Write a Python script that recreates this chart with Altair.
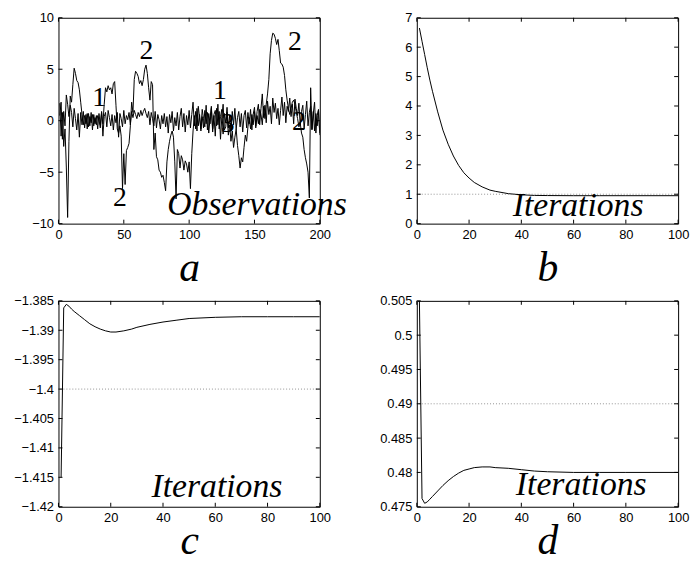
import altair as alt
import pandas as pd

# ---------------- data ----------------
obs_x = list(range(1, 201))

series_small = [
    0.5, 1.8, -1.8, 0.9, -0.5, 2.5, 1.6, 0.4, 1.5, 0.8,
    -0.6, 1.2, 0.2, -0.9, 0.7, -1.6, 0.8, -0.4, 0.9, -0.7,
    0.6, -0.8, 0.7, -0.5, 0.8, -0.9, 0.6, -0.3, 0.5, -0.8,
    0.7, -0.4, 0.9, -1.5, 0.4, 0.8, -0.6, 1.0, 0.3, -0.5,
    0.6, -0.9, 0.5, -0.2, 0.8, -1.6, 0.7, 0.2, -0.6, 1.0,
    -0.3, 0.5, 0.1, 0.8, -0.4, 0.9, 0.3, 1.0, 0.6, 0.2,
    0.8, 0.4, 1.0, 0.5, 0.9, 1.2, 0.7, 0.3, 0.9, -0.4,
    0.8, 0.2, -0.5, 0.9, -0.7, 0.6, 0.1, -0.8, 0.5, -0.3,
    0.7, -0.6, 0.4, -1.2, 0.6, -0.2, 0.9, -1.0, 0.3, -0.5,
    0.8, -0.9, 0.4, 1.2, -0.6, 0.7, -1.1, 0.5, -0.4, 1.0,
    -0.7, 0.6, 1.8, -0.5, 0.9, -1.0, 1.4, 0.3, -0.8, 1.1,
    0.2, -0.6, 1.5, -0.9, 0.7, -0.3, 1.2, -1.1, 0.6, 1.0,
    -0.5, 1.6, -0.8, 0.4, 1.1, -1.3, 0.7, -0.2, 1.3, -0.7,
    0.5, -1.0, 0.9, -0.4, 1.2, -0.8, 0.3, 0.9, -0.6, 0.7,
    -1.1, 0.5, 1.0, -0.7, 0.8, -0.3, 1.1, -0.9, 0.6, 1.3,
    -0.5, 0.9, 1.6, -0.4, 1.2, 2.6, 0.3, 1.5, -0.2, 1.9,
    0.6, 1.4, -0.3, 2.2, 0.8, 1.7, 0.2, 1.2, -0.4, 1.0,
    2.3, 0.5, 1.8, -0.2, 1.4, 0.9, 2.2, 0.4, 1.6, -0.3,
    2.1, 1.2, 0.5, 1.7, -0.4, 0.9, 1.5, -0.8, 0.6, 1.9,
    -0.5, 0.8, 1.4, -0.9, 0.7, 1.8, -1.2, 0.5, 1.1, -1.4,
]

series_big = [
    1.7, -1.5, 0.8, -2.5, -0.8, -4.5, -9.4, -2.0, 2.4, 1.8,
    3.5, 5.1, 4.6, 3.9, 3.7, 3.0, 1.8, 0.6, -0.4, 0.5,
    -0.3, 0.7, -0.6, 0.4, -0.2, 0.6, -0.5, 0.3, -0.4, 0.5,
    0.1, -0.7, 0.8, -0.3, 1.6, 3.2, 2.8, 3.4, 3.0, 3.2,
    2.6, 3.6, 3.8, 1.5, -0.8, -1.2, -0.5, -1.5, -6.6, -3.2,
    -6.2, -2.9, -2.6, -2.2, -0.5, 1.8, 0.8, 4.0, 4.8, 4.6,
    4.3, 3.6, 3.9, 3.4, 4.0, 5.0, 5.4, 4.6, 3.2, 2.0,
    3.8, 3.5, -2.8, -1.2, -3.5, -3.8, -4.8, -5.0, -5.5, -5.3,
    -6.0, -6.8, -4.0, -2.8, -2.0, -1.4, -1.0, -1.6, -4.0, -7.6,
    -2.8, -3.2, -4.6, -3.4, -3.8, -4.8, -3.9, -4.2, -5.0, -4.0,
    -6.6, -3.2, -1.0, 0.5, -0.8, 1.2, -0.5, 0.6, -1.0, 0.4,
    -0.7, 1.0, -0.3, 0.8, -1.2, 0.2, 1.4, -0.8, 0.5, -1.5,
    1.2, -0.4, 0.9, -1.8, 0.3, 1.6, -0.9, -0.6, 0.8, -1.4,
    -0.4, -2.0, -1.0, -2.6, -1.6, -0.8, -2.4, -3.4, -4.6, -3.6,
    -4.0, -2.6, -1.4, -2.0, -0.6, 0.3, -0.8, 0.6, -0.4, 0.9,
    -0.7, 0.5, -0.3, 1.1, 0.6, -0.4, 1.4, 0.2, 1.6, 2.6,
    4.0, 6.5, 7.8, 8.5, 8.4, 8.0, 7.4, 7.9, 6.8, 5.6,
    5.5, 5.2, 4.4, 3.0, 2.0, 1.2, 0.6, 1.2, 1.8, 2.0,
    1.6, 0.8, 0.2, -0.6, -0.2, -1.2, -1.6, -2.8, -3.6, -4.2,
    -5.0, -7.5, 3.2, -0.8, 0.9, -1.0, 0.7, -0.5, 1.0, -1.2,
]

# regime labels in panel a
regime_text = ["2", "1", "2", "1", "3", "2", "2"]
regime_x = [67.4, 31.1, 47.0, 123.5, 129.5, 181.0, 184.0]
regime_y = [6.8, 2.2, -7.5, 2.9, -0.3, 7.6, -0.1]

iters = [1, 2, 3, 4, 5, 6, 8, 10, 12, 14, 16, 18, 20, 22, 25, 28, 30,
         35, 40, 45, 50, 60, 70, 80, 90, 100]
b_vals = [6.65, 6.2, 5.75, 5.3, 4.88, 4.5, 3.8, 3.18, 2.7, 2.3, 1.98, 1.73,
          1.55, 1.4, 1.25, 1.14, 1.1, 1.02, 0.98, 0.96, 0.955, 0.95, 0.95,
          0.95, 0.95, 0.95]
c_vals = [-1.415, -1.3862, -1.3856, -1.3859, -1.3864, -1.3868, -1.3875,
          -1.3882, -1.3889, -1.3894, -1.3898, -1.3901, -1.3903, -1.3903,
          -1.3901, -1.3898, -1.3895, -1.3890, -1.3886, -1.3883, -1.3880,
          -1.3878, -1.3877, -1.3877, -1.3877, -1.3877]
d_vals = [0.505, 0.4762, 0.4755, 0.4757, 0.4761, 0.4765, 0.4773, 0.4781,
          0.4788, 0.4794, 0.4799, 0.4803, 0.4805, 0.4807, 0.4808, 0.4808,
          0.4807, 0.4806, 0.4804, 0.4802, 0.4801, 0.4800, 0.4800, 0.4800,
          0.4800, 0.4800]

ref_b, ref_c, ref_d = 1.0, -1.4, 0.49

# ---------------- styling ----------------
W, H = 264, 208
TICK = 4
LABEL_FONT = "Liberation Sans"
SERIF = "Liberation Serif"


def panel(lines_df, xdom, ydom, xticks, yticks, title, title_y,
          ref=None, word=None, word_xy=None, labels_df=None):
    xscale = alt.Scale(domain=xdom, nice=False, zero=False)
    yscale = alt.Scale(domain=ydom, nice=False, zero=False)
    xaxis = alt.Axis(values=xticks, format="~f", ticks=False, tickSize=0,
                     domain=False, grid=False, labelPadding=5,
                     labelFlush=False, labelOverlap=False,
                     labelFont=LABEL_FONT, labelFontSize=13, labelColor="black",
                     title=title, titleFont=SERIF, titleFontSize=42,
                     titleFontStyle="italic", titleFontWeight="normal",
                     titleColor="black", titleBaseline="alphabetic",
                     titleY=title_y, titleX=W / 2, titleAlign="center")
    yaxis = alt.Axis(values=yticks, format="~f", ticks=False, tickSize=0,
                     domain=False, grid=False, labelPadding=5,
                     labelOverlap=False, labelFont=LABEL_FONT,
                     labelFontSize=13, labelColor="black", title=None)

    def xe():
        return alt.X("x:Q", scale=xscale, axis=xaxis)

    def ye():
        return alt.Y("y:Q", scale=yscale, axis=yaxis)

    layers = []
    layers.append(
        alt.Chart(lines_df).mark_line(color="black", strokeWidth=1, clip=True)
        .encode(x=xe(), y=ye(), detail="s:N")
    )
    if ref is not None:
        layers.append(
            alt.Chart(pd.DataFrame({"y": [ref]}))
            .mark_rule(color="#777777", strokeWidth=0.8, strokeDash=[1, 2])
            .encode(y=ye())
        )
    xt = pd.DataFrame({"x": xticks})
    yt = pd.DataFrame({"y": yticks})
    layers.append(alt.Chart(xt).mark_rule(color="black", strokeWidth=1)
                  .encode(x=xe(), y=alt.value(H), y2=alt.value(H - TICK)))
    layers.append(alt.Chart(xt).mark_rule(color="black", strokeWidth=1)
                  .encode(x=xe(), y=alt.value(0), y2=alt.value(TICK)))
    layers.append(alt.Chart(yt).mark_rule(color="black", strokeWidth=1)
                  .encode(y=ye(), x=alt.value(0), x2=alt.value(TICK)))
    layers.append(alt.Chart(yt).mark_rule(color="black", strokeWidth=1)
                  .encode(y=ye(), x=alt.value(W), x2=alt.value(W - TICK)))
    if labels_df is not None:
        layers.append(
            alt.Chart(labels_df).mark_text(font=SERIF, fontSize=28,
                                           color="black", align="center",
                                           baseline="middle")
            .encode(x=xe(), y=ye(), text="t:N")
        )
    if word is not None:
        layers.append(
            alt.Chart(pd.DataFrame({"x": [word_xy[0]], "y": [word_xy[1]],
                                    "t": [word]}))
            .mark_text(font=SERIF, fontSize=34, fontStyle="italic",
                       color="black", align="left", baseline="alphabetic")
            .encode(x=xe(), y=ye(), text="t:N")
        )
    return alt.layer(*layers).properties(width=W, height=H)


df_a = pd.DataFrame({
    "x": obs_x + obs_x,
    "y": series_small + series_big,
    "s": ["small"] * len(obs_x) + ["big"] * len(obs_x),
})
lab_a = pd.DataFrame({"x": regime_x, "y": regime_y, "t": regime_text})
df_b = pd.DataFrame({"x": iters, "y": b_vals, "s": "b"})
df_c = pd.DataFrame({"x": iters, "y": c_vals, "s": "c"})
df_d = pd.DataFrame({"x": iters, "y": d_vals, "s": "d"})

it_ticks = [0, 20, 40, 60, 80, 100]

pa = panel(df_a, [0, 200], [-10, 10], [0, 50, 100, 150, 200],
           [-10, -5, 0, 5, 10], "a", 57,
           word="Observations", word_xy=(83.3, -9.13), labels_df=lab_a)
pb = panel(df_b, [0, 100], [0, 7], it_ticks, [0, 1, 2, 3, 4, 5, 6, 7],
           "b", 57, ref=ref_b, word="Iterations", word_xy=(36.7, 0.27))
pc = panel(df_c, [0, 100], [-1.42, -1.385], it_ticks,
           [-1.42, -1.415, -1.41, -1.405, -1.4, -1.395, -1.39, -1.385],
           "c", 47, ref=ref_c, word="Iterations", word_xy=(35.6, -1.4183))
pd_ = panel(df_d, [0, 100], [0.475, 0.505], it_ticks,
            [0.475, 0.48, 0.485, 0.49, 0.495, 0.5, 0.505],
            "d", 47, ref=ref_d, word="Iterations", word_xy=(37.9, 0.4767))

chart = alt.concat(pa, pb, pc, pd_, columns=2,
                   spacing={"row": 78, "column": 98}, bounds="flush") \
    .properties(padding={"left": 5, "top": 0, "right": 0, "bottom": 0}) \
    .configure_view(stroke="black", strokeWidth=1)

chart.save("out.html", embed_options={"renderer": "svg", "actions": False})
